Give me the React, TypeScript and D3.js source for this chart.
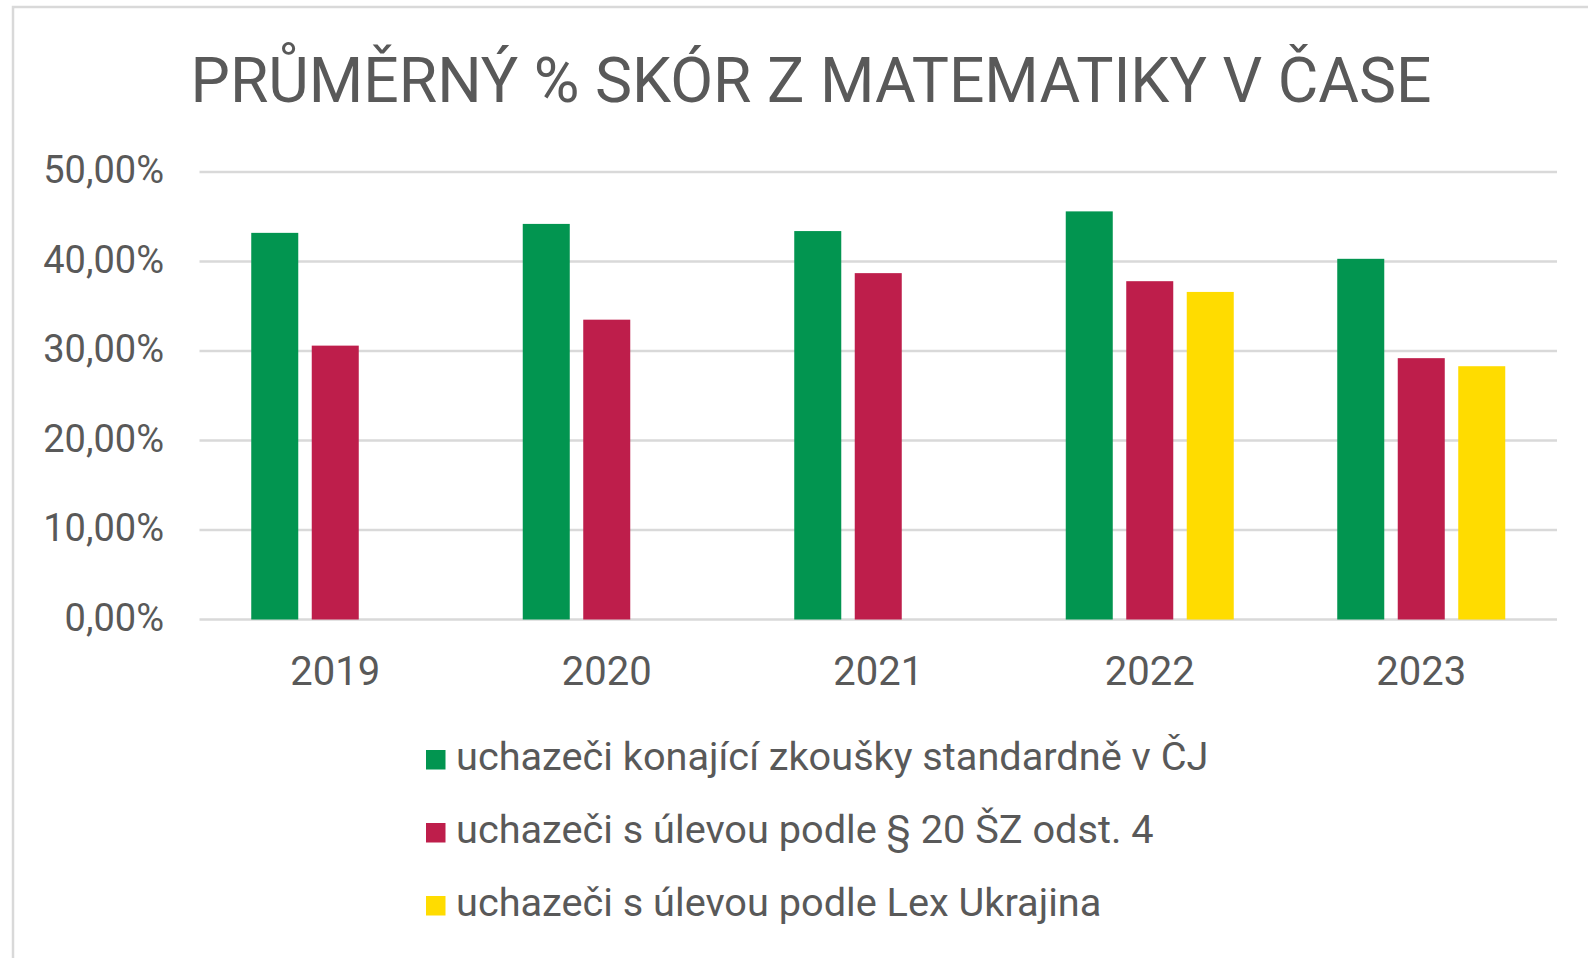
import React from "react";
import * as d3 from "d3";

const years = ["2019", "2020", "2021", "2022", "2023"];
const seriesNames = [
  "uchazeči konající zkoušky standardně v ČJ",
  "uchazeči s úlevou podle § 20 ŠZ odst. 4",
  "uchazeči s úlevou podle Lex Ukrajina",
];
const seriesColors = ["#029550", "#BE1E4B", "#FFDC00"];
const standardValues = [43.2, 44.2, 43.4, 45.6, 40.3];
const relief20Values = [30.6, 33.5, 38.7, 37.8, 29.2];
const lexUkrajinaValues = [null, null, null, 36.6, 28.3];
const yTicks = [0, 10, 20, 30, 40, 50];
const title = "PRŮMĚRNÝ % SKÓR Z MATEMATIKY V ČASE";

const W = 1588;
const H = 958;
const plot = { left: 199.5, right: 1557, top: 172, bottom: 619.5 };
const FONT = "Roboto, 'Noto Sans', sans-serif";
const TEXT = "#595959";
const GRID = "#d9d9d9";

export default function App() {
  const allSeries = [standardValues, relief20Values, lexUkrajinaValues];
  const y = d3.scaleLinear().domain([0, 50]).range([plot.bottom, plot.top]);
  const x0 = d3.scaleBand().domain(years).range([plot.left, plot.right]).padding(0);
  const groupW = 168;
  const bw0 = x0.bandwidth();
  const x1 = d3
    .scaleBand()
    .domain(seriesNames)
    .range([(bw0 - groupW) / 2, (bw0 + groupW) / 2])
    .paddingInner(0.223)
    .paddingOuter(0);
  const fmt = (v: number) => d3.format(".2f")(v).replace(".", ",") + "%";

  return (
    <svg
      width={W}
      height={H}
      style={{ position: "absolute", left: 0, top: 0, background: "#fff" }}
    >
      <rect x={0} y={0} width={W} height={H} fill="#fff" />
      <rect x={13} y={7} width={1700} height={1100} fill="#fff" stroke={GRID} strokeWidth={2.5} />
      <text
        x={811}
        y={102}
        textAnchor="middle"
        fontFamily={FONT}
        fontSize={62.4}
        fill={TEXT}
      >
        {title}
      </text>
      {yTicks.map((t) => (
        <g key={t}>
          <line x1={plot.left} x2={plot.right} y1={y(t)} y2={y(t)} stroke={GRID} strokeWidth={2.5} />
          <text
            x={164}
            y={y(t)}
            dy="0.3em"
            textAnchor="end"
            fontFamily={FONT}
            fontSize={38}
            fill={TEXT}
          >
            {fmt(t)}
          </text>
        </g>
      ))}
      {years.map((yr, i) => (
        <g key={yr} transform={`translate(${x0(yr)},0)`}>
          {allSeries.map((s, j) => {
            const v = s[i];
            if (v == null) return null;
            return (
              <rect
                key={j}
                x={x1(seriesNames[j])}
                y={y(v)}
                width={x1.bandwidth()}
                height={y(0) - y(v)}
                fill={seriesColors[j]}
              />
            );
          })}
          <text
            x={bw0 / 2}
            y={684.5}
            textAnchor="middle"
            fontFamily={FONT}
            fontSize={40}
            fill={TEXT}
          >
            {yr}
          </text>
        </g>
      ))}
      {seriesNames.map((n, j) => {
        const by = 770 + j * 73;
        return (
          <g key={n}>
            <rect x={426} y={by - 20} width={19.5} height={19.5} fill={seriesColors[j]} />
            <text x={456} y={by} fontFamily={FONT} fontSize={39.7} fill={TEXT}>
              {n}
            </text>
          </g>
        );
      })}
    </svg>
  );
}
